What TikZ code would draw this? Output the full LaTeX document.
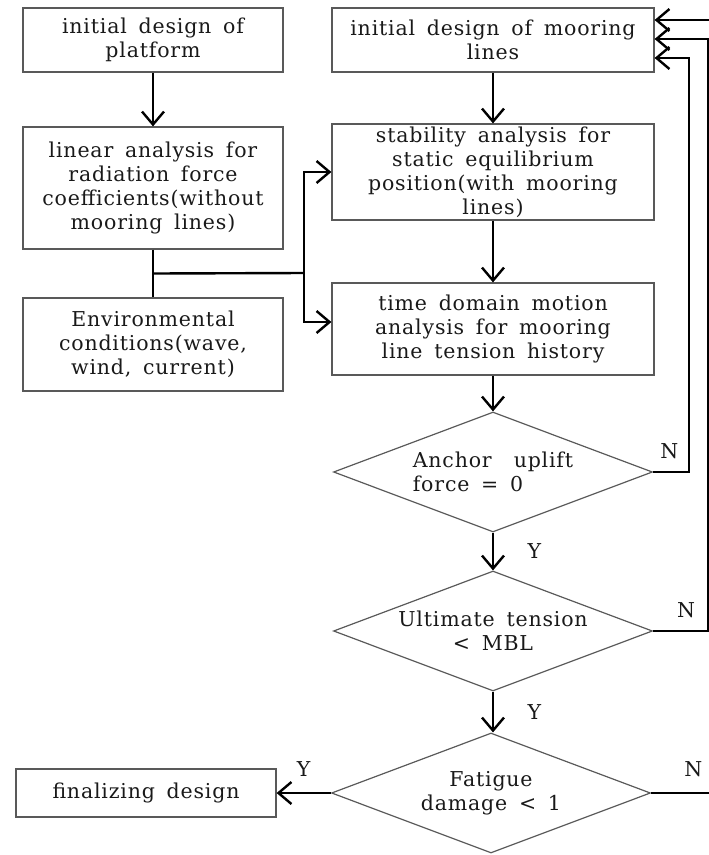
\documentclass[tikz,border=0pt]{standalone}
\usepackage{fontspec}
\setmainfont{DejaVu Serif}[LetterSpace=4,WordSpace=1.6]
\usetikzlibrary{shapes.geometric,arrows.meta,calc}

\tikzset{
  box/.style={draw=black!65,line width=1.2pt,inner sep=0pt,align=center,text=black!90},
  test/.style={diamond,draw=black!65,line width=1.2pt,inner sep=0pt,aspect=2.65,
    minimum width=319pt,minimum height=120pt,align=center,text=black!90},
  flow/.style={draw,line width=2.4pt,-{Straight Barb[length=13pt,width=22pt]}},
  link/.style={draw,line width=2.4pt},
  tag/.style={text=black!90}
}

\begin{document}
\begin{tikzpicture}[x=1pt,y=-1pt,font=\fontsize{20.5}{24}\selectfont]
\clip (0,0) rectangle (709,855);
% left column
\node[box,minimum width=260pt,minimum height=64pt] (plat) at (153,40) {initial design of\\platform};
\node[box,minimum width=260pt,minimum height=122pt] (lin) at (153,188) {linear analysis for\\radiation force\\coefficients(without\\mooring lines)};
\node[box,minimum width=260pt,minimum height=93pt] (env) at (153,344.5) {Environmental\\conditions(wave,\\wind, current)};
\node[box,minimum width=260pt,minimum height=48pt] (fin) at (146,793) {finalizing design};
% middle column
\node[box,minimum width=322pt,minimum height=64pt] (moor) at (493,40) {initial design of mooring\\lines};
\node[box,minimum width=322pt,minimum height=96pt] (stab) at (493,172) {stability analysis for\\static equilibrium\\position(with mooring\\lines)};
\node[box,minimum width=322pt,minimum height=92pt] (time) at (493,329) {time domain motion\\analysis for mooring\\line tension history};
\node[test,align=left] (anch) at (493,472) {Anchor\hspace{22pt}uplift\\force = 0};
\node[test] (ult) at (493,631) {Ultimate tension\\< MBL};
\node[test] (fat) at (491,793) {Fatigue\\damage < 1};

\path[flow] (plat) -- (lin);
\path[link] (lin) -- (env);
\coordinate (split) at ($(lin.south)!.5!(env.north)$);
\coordinate (bus) at (304,273);
\path[link] (split) -- (bus);
\path[flow] (bus) |- (stab.west);
\path[flow] (bus) |- ([yshift=7pt]time.west);

\path[flow] (moor) -- (stab);
\path[flow] (stab) -- (time);
\path[flow] (time) -- (anch);
\path[flow] (anch) -- node[tag,right=30pt] {Y} (ult);
\path[flow] (ult.south) -- node[tag,right=30pt] {Y} (ult.south |- fat.north);
\path[flow] (fat) -- node[tag,above=12pt] {Y} (fin);

% loops back to the mooring lines
\path[flow] (anch.east) -- ++(36,0) node[tag,above=9pt,pos=.45] {N} |- ([yshift=-18pt]moor.east);
\path[flow] (ult.east) -- ++(55,0) node[tag,above=9pt,pos=.6] {N} |- ([yshift=1pt]moor.east);
\path[flow] (fat.east) -- ++(77,0) node[tag,above=12pt,pos=.55] {N} |- ([yshift=20pt]moor.east);
\end{tikzpicture}
\end{document}
